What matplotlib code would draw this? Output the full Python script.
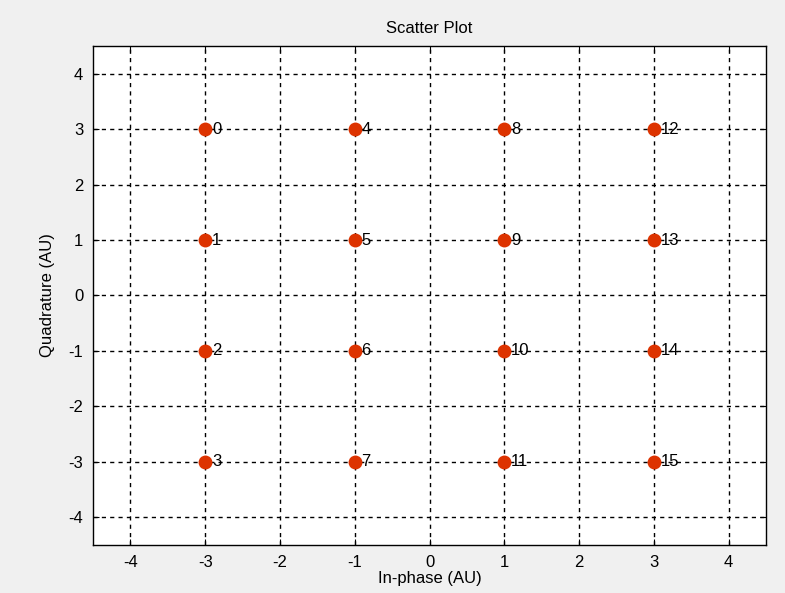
import numpy as np
import matplotlib.pyplot as plt

# constelacion 16-QAM
x_pts = [-3, -3, -3, -3, -1, -1, -1, -1, 1, 1, 1, 1, 3, 3, 3, 3]
y_pts = [3, 1, -1, -3, 3, 1, -1, -3, 3, 1, -1, -3, 3, 1, -1, -3]
etiquetas = [str(i) for i in range(16)]
ticks = [-4, -3, -2, -1, 0, 1, 2, 3, 4]

plt.rcParams['font.family'] = ['Liberation Sans', 'DejaVu Sans']
plt.rcParams['axes.unicode_minus'] = False

fig = plt.figure(figsize=(7.85, 5.93), dpi=100, facecolor='#f0f0f0')
ax = fig.add_axes([0.1185, 0.081, 0.8573, 0.8415])
ax.set_facecolor('white')

ax.plot(x_pts, y_pts, 'o', color='#dd3300', markersize=10, markeredgewidth=0,
        zorder=3)
for xi, yi, et in zip(x_pts, y_pts, etiquetas):
    ax.text(xi + 0.09, yi, et, fontsize=12, va='center', ha='left', zorder=4)

ax.set_xlim(-4.5, 4.5)
ax.set_ylim(-4.5, 4.5)
ax.set_xticks(ticks)
ax.set_yticks(ticks)
ax.grid(True, color='black', linestyle=(0, (3, 3)), linewidth=1)
ax.set_axisbelow(True)
ax.tick_params(direction='in', length=4, labelsize=12, top=True, right=True,
               pad=7)
for s in ax.spines.values():
    s.set_linewidth(1)

ax.set_title('Scatter Plot', fontsize=12, pad=9)
ax.set_xlabel('In-phase (AU)', fontsize=12, labelpad=1)
ax.set_ylabel('Quadrature (AU)', fontsize=12, labelpad=10)

fig.savefig('out.png', dpi=100, facecolor=fig.get_facecolor())
